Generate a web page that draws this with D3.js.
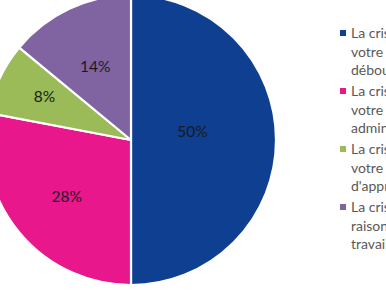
<!DOCTYPE html>
<html><head><meta charset="utf-8">
<script src="https://cdn.jsdelivr.net/npm/d3@7"></script>
<style>html,body{margin:0;padding:0;background:#fff;overflow:hidden}</style>
</head><body>
<svg id="c" width="386" height="290"></svg>
<script>
const categories = [
  ["La crise a-t-elle affecté", "votre entreprise au niveau des", "débouchés"],
  ["La crise a-t-elle affecté", "votre entreprise au niveau", "administratif"],
  ["La crise a-t-elle affecté", "votre entreprise au niveau", "d'approvisionnement"],
  ["La crise a-t-elle affecté", "raisonnablement votre", "travail"]
];
const values = [50, 28, 8, 14];
const labels = ["50%", "28%", "8%", "14%"];
const colors = ["#0F3F91", "#E8178B", "#9BBB59", "#8064A2"];

const svg = d3.select("#c");
const cx = 131, cy = 140, r = 145;
const g = svg.append("g").attr("transform", `translate(${cx},${cy})`);
const pie = d3.pie().sort(null).value(d => d)(values);
const arc = d3.arc().innerRadius(0).outerRadius(r);
g.selectAll("path").data(pie).join("path")
  .attr("d", arc).attr("fill", (d, i) => colors[i])
  .attr("stroke", "#fff").attr("stroke-width", 2.2).attr("stroke-linejoin", "round");

// labels at area centroid of each sector
const labelAdj = [[0, -9], [1, 2], [0, -3], [4, 11]];
g.selectAll("text.lbl").data(pie).join("text").attr("class", "lbl")
  .each(function (d, i) {
    const th = d.endAngle - d.startAngle, mid = (d.startAngle + d.endAngle) / 2;
    const dist = 4 * r * Math.sin(th / 2) / (3 * th);
    d3.select(this).attr("x", dist * Math.sin(mid) + labelAdj[i][0])
      .attr("y", -dist * Math.cos(mid) + labelAdj[i][1]);
  })
  .attr("text-anchor", "middle").attr("dominant-baseline", "central")
  .attr("font-family", "Lato, 'Open Sans', sans-serif").attr("font-size", 15.5)
  .attr("fill", "#1a1a1a").text((d, i) => labels[i]);

// legend
const lx = 340, ly0 = 38, step = 58, lh = 18.6;
const leg = svg.append("g");
categories.forEach((lines, i) => {
  const y = ly0 + i * step;
  leg.append("rect").attr("x", lx).attr("y", y - 8).attr("width", 6).attr("height", 6).attr("fill", colors[i]);
  const t = leg.append("text").attr("x", lx + 11).attr("y", y)
    .attr("font-family", "Lato, 'Open Sans', sans-serif").attr("font-size", 14).attr("fill", "#595959");
  lines.forEach((s, j) => t.append("tspan").attr("x", lx + 11).attr("y", y + j * lh).text(s));
});
</script>
</body></html>
